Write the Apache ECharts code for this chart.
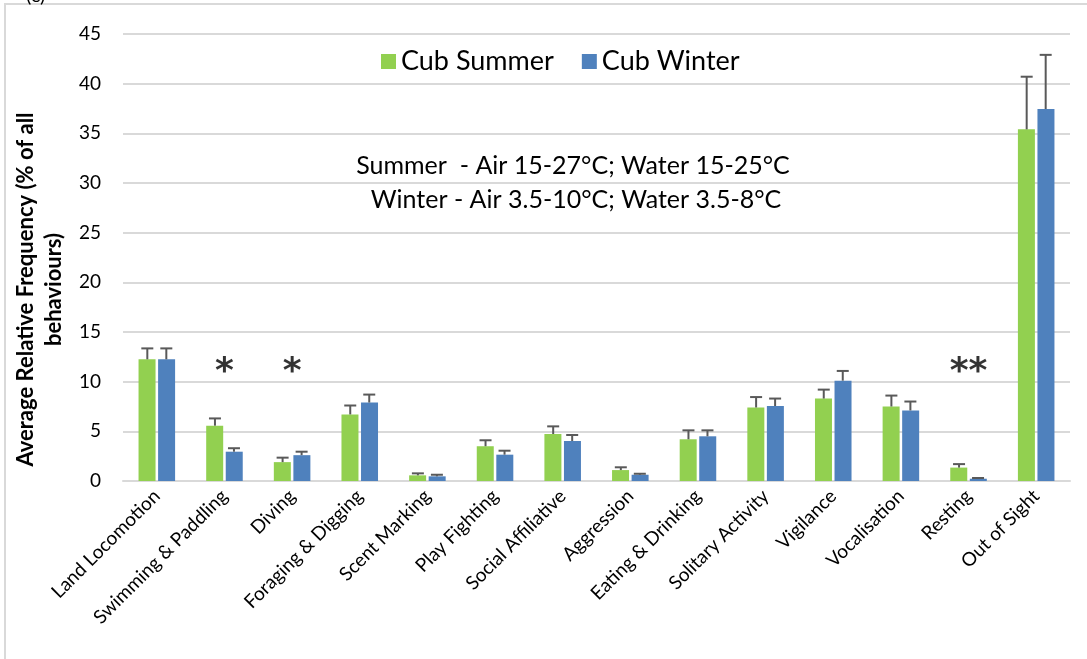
<!DOCTYPE html>
<html>
<head>
<meta charset="utf-8">
<script src="https://cdn.jsdelivr.net/npm/echarts@6/dist/echarts.min.js"></script>
<style>
  html, body { margin: 0; padding: 0; background: #fff; }
  #chart { width: 1087px; height: 659px; }
</style>
</head>
<body>
<div id="chart"></div>
<script>
// behaviours
const categories = ['Land Locomotion', 'Swimming & Paddling', 'Diving', 'Foraging & Digging', 'Scent Marking',
  'Play Fighting', 'Social Affiliative', 'Aggression', 'Eating & Drinking', 'Solitary Activity',
  'Vigilance', 'Vocalisation', 'Resting', 'Out of Sight'];
const summer = [12.25, 5.57, 1.9, 6.7, 0.57, 3.5, 4.73, 1.1, 4.2, 7.4, 8.3, 7.5, 1.35, 35.4];
const summerErr = [1.1, 0.73, 0.45, 0.9, 0.2, 0.6, 0.77, 0.28, 0.9, 1.05, 0.9, 1.1, 0.35, 5.3];
const winter = [12.25, 2.95, 2.6, 7.9, 0.47, 2.65, 4.03, 0.63, 4.5, 7.55, 10.1, 7.1, 0.23, 37.45];
const winterErr = [1.1, 0.35, 0.35, 0.8, 0.16, 0.4, 0.6, 0.1, 0.6, 0.75, 0.98, 0.9, 0.07, 5.45];
const yTicks = [0, 5, 10, 15, 20, 25, 30, 35, 40, 45];
// significance marks
const stars = [['Swimming & Paddling', 10.9, '*'], ['Diving', 10.9, '*'], ['Resting', 10.9, '**']];

const font = 'Lato, "Open Sans", sans-serif';
const chart = echarts.init(document.getElementById('chart'));

// upper error bar only, drawn beside its own bar
function errorSeries(name, vals, errs, offset) {
  return {
    type: 'custom',
    name: name + ' err',
    z: 5,
    silent: true,
    data: vals.map((v, i) => [i, v, v + errs[i]]),
    renderItem: function (params, api) {
      const top = api.coord([api.value(0), api.value(2)]);
      const base = api.coord([api.value(0), api.value(1)]);
      const x = top[0] + offset;
      const st = { stroke: '#595959', lineWidth: 2 };
      return {
        type: 'group',
        children: [
          { type: 'line', shape: { x1: x, y1: base[1], x2: x, y2: top[1] }, style: st },
          { type: 'line', shape: { x1: x - 6, y1: top[1], x2: x + 6, y2: top[1] }, style: st }
        ]
      };
    }
  };
}

chart.setOption({
  animation: false,
  textStyle: { fontFamily: font },
  grid: { left: 123, right: 17, top: 34, bottom: 178 },
  legend: {
    data: ['Cub Summer', 'Cub Winter'],
    left: 376, top: 43,
    itemWidth: 15, itemHeight: 15, itemGap: 28,
    icon: 'rect',
    textStyle: { fontSize: 27, color: '#000', fontFamily: font }
  },
  xAxis: {
    type: 'category',
    data: categories,
    axisLine: { lineStyle: { color: '#d9d9d9', width: 2 } },
    axisTick: { show: false },
    axisLabel: { rotate: 45, fontSize: 19, color: '#000', margin: 12, interval: 0 }
  },
  yAxis: {
    type: 'value',
    min: yTicks[0], max: yTicks[yTicks.length - 1], interval: 5,
    name: 'Average Relative Frequency (% of all\nbehaviours)',
    nameLocation: 'middle',
    nameGap: 53,
    nameTextStyle: { fontSize: 22, fontWeight: 'bold', color: '#000', lineHeight: 28, fontFamily: font, padding: [0, 64, 0, 0] },
    axisLine: { show: false },
    axisTick: { show: false },
    axisLabel: { fontSize: 19, color: '#000', margin: 22 },
    splitLine: { lineStyle: { color: '#d9d9d9', width: 2 } }
  },
  graphic: [
    { type: 'polyline', shape: { points: [[5, 700], [5, 4], [1100, 4]] }, style: { stroke: '#d9d9d9', lineWidth: 2, fill: null } },
    { type: 'text', left: 26, top: -14, style: { text: '(c)', fontSize: 20, fill: '#000', fontFamily: font } },
    { type: 'text', x: 573, y: 166, style: { text: 'Summer  - Air 15-27°C; Water 15-25°C', fontSize: 25, fill: '#000', fontFamily: font, align: 'center', verticalAlign: 'middle' } },
    { type: 'text', x: 576, y: 200, style: { text: 'Winter - Air 3.5-10°C; Water 3.5-8°C', fontSize: 25, fill: '#000', fontFamily: font, align: 'center', verticalAlign: 'middle' } }
  ],
  series: [
    { name: 'Cub Summer', type: 'bar', data: summer, barWidth: 17, barGap: '15%', itemStyle: { color: '#92d050' } },
    { name: 'Cub Winter', type: 'bar', data: winter, barWidth: 17, barGap: '15%', itemStyle: { color: '#4f81bd' } },
    errorSeries('Cub Summer', summer, summerErr, -9.5),
    errorSeries('Cub Winter', winter, winterErr, 9.5),
    {
      type: 'scatter',
      name: 'sig',
      symbolSize: 0,
      silent: true,
      data: stars.map(s => ({ value: [s[0], s[1]], label: { formatter: s[2] } })),
      label: { show: true, position: 'inside', fontSize: 36, fontWeight: 'bold', color: '#000', fontFamily: 'DejaVu Sans' }
    }
  ]
});
</script>
</body>
</html>
